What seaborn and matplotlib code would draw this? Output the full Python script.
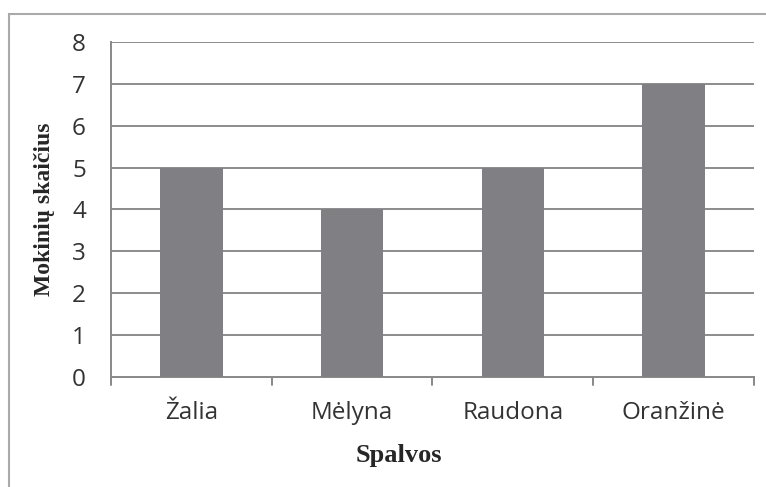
import matplotlib
matplotlib.use("Agg")
import matplotlib.pyplot as plt
import seaborn as sns
import pandas as pd
from matplotlib.patches import Rectangle

categories = ["Žalia", "Mėlyna", "Raudona", "Oranžinė"]
values = [5, 4, 5, 7]
yticks = [0, 1, 2, 3, 4, 5, 6, 7, 8]

df = pd.DataFrame({"Spalvos": categories, "Mokiniai": values})

sns.set_style("white")
fig = plt.figure(figsize=(7.66, 4.87), dpi=100)
ax = fig.add_axes([0.1449, 0.2259, 0.8394, 0.6879])

sns.barplot(data=df, x="Spalvos", y="Mokiniai", color="#808084", width=0.39,
            saturation=1, linewidth=0, edgecolor="none", ax=ax, zorder=3)

ax.set_ylim(0, 8)
ax.set_xlim(-0.5, 3.5)
ax.set_yticks(yticks)
ax.set_yticklabels([str(v) for v in yticks], fontsize=17.5, family="Open Sans", color="#333333")
ax.set_xticks(range(len(categories)))
ax.set_xticklabels(categories, fontsize=17.5, family="Open Sans", color="#333333")
ax.tick_params(axis="x", length=0, pad=17)
ax.tick_params(axis="y", length=6, width=1.2, color="#888888", pad=12)

for v in yticks[1:]:
    ax.axhline(v, color="#8c8c8c", lw=1.4, zorder=1)

for s in ["top", "right"]:
    ax.spines[s].set_visible(False)
for s in ["left", "bottom"]:
    ax.spines[s].set_color("#888888")
    ax.spines[s].set_linewidth(1.4)

# category boundary ticks on x axis
for b in [-0.5, 0.5, 1.5, 2.5, 3.5]:
    ax.plot([b, b], [0, -0.2], color="#888888", lw=1.4, clip_on=False, zorder=4)

ax.set_xlabel("Spalvos", fontsize=19, family="Liberation Serif", fontweight="bold", labelpad=6)
ax.xaxis.set_label_coords(0.447, -0.2)
ax.set_ylabel("Mokinių skaičius", fontsize=17, family="Liberation Serif", fontweight="bold")
ax.yaxis.set_label_coords(-0.087, 0.5)

fig.patches.append(Rectangle((9/766, -0.1), 1.2, 1 - 14/487 + 0.1, transform=fig.transFigure,
                             fill=False, edgecolor="#aaaaaa", lw=1.5))

fig.savefig("out.png", dpi=100)
